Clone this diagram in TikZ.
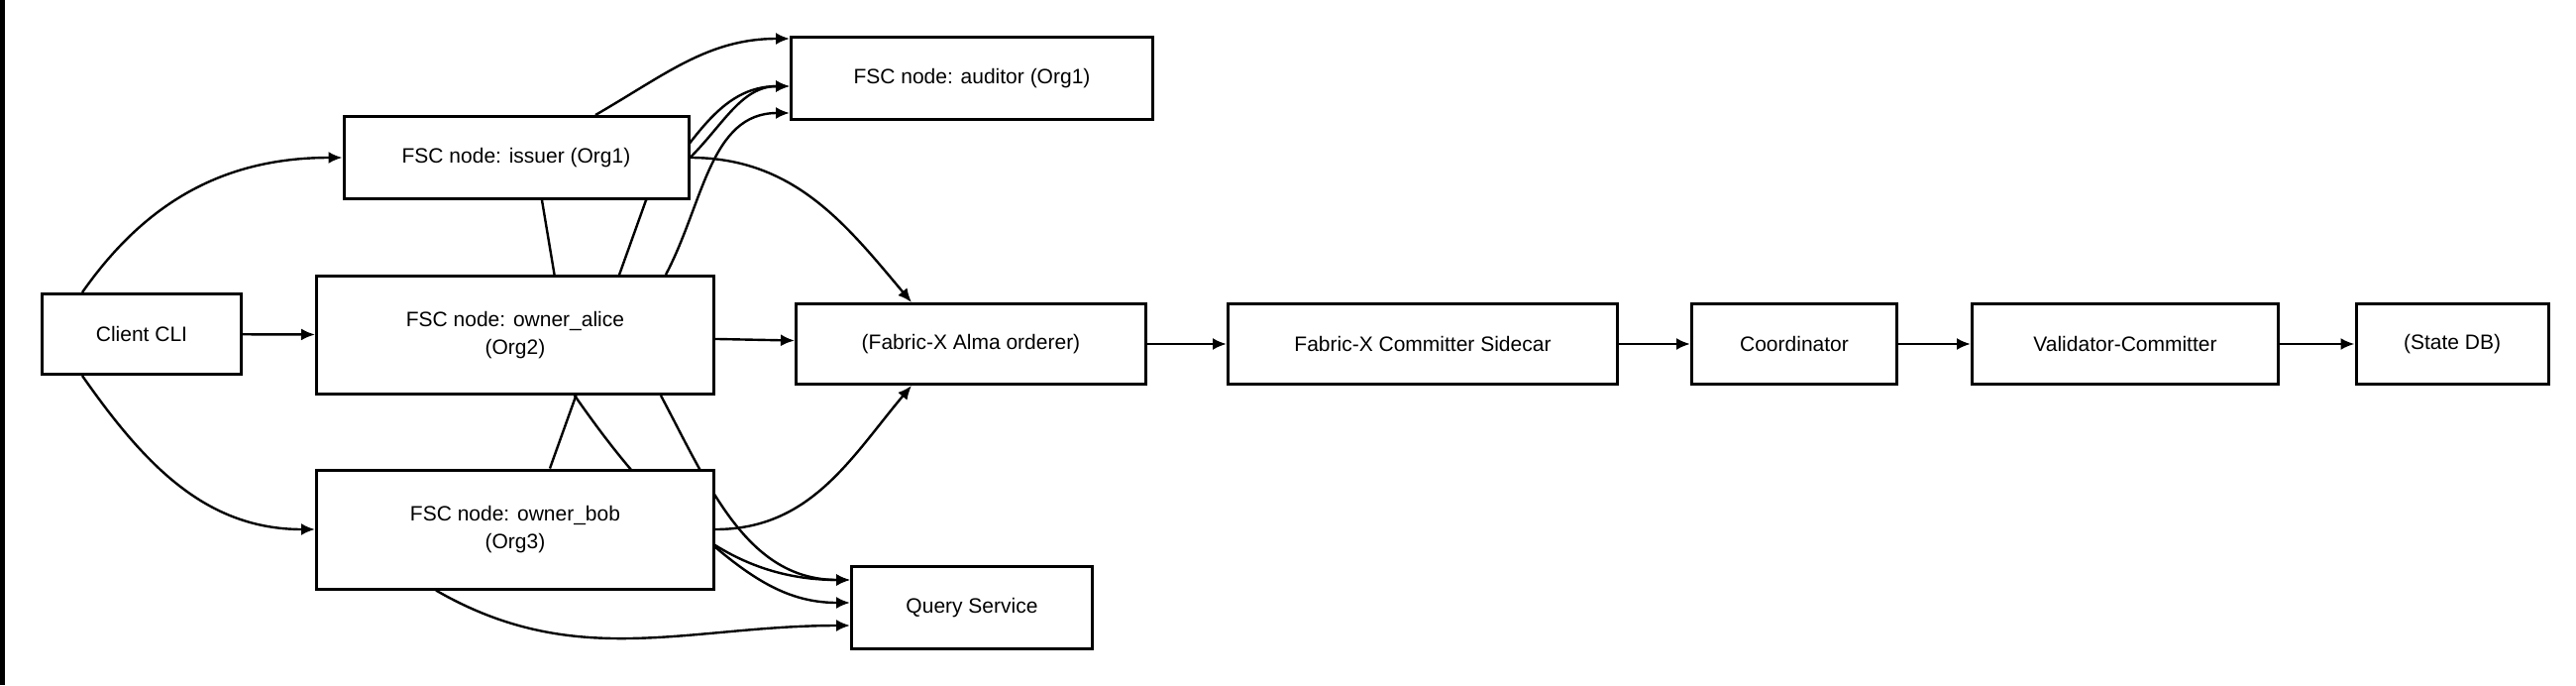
\documentclass[tikz,border=0pt]{standalone}
\usepackage{fontspec}
\setmainfont{Liberation Sans}
\usetikzlibrary{arrows.meta,backgrounds}
\tikzset{
  box/.style={draw, fill=white, line width=3pt, align=center, font=\fontsize{21}{28}\selectfont, inner sep=0pt},
  link/.style={line width=2.4pt, -{Latex[length=14pt,width=12pt]}},
}
\begin{document}
\begin{tikzpicture}[x=1pt, y=-1pt]
\useasboundingbox (0,0) rectangle (2600,691);
\fill (0,0) rectangle (5,691);
% boxes, placed at their centres
\node[box, minimum width=201pt, minimum height=81pt] (cli) at (143,337) {Client CLI};
\node[box, minimum width=348pt, minimum height=83pt] (issuer) at (521,159) {FSC node: issuer (Org1)};
\node[box, minimum width=401pt, minimum height=119pt] (alice) at (520,338) {FSC node: owner\_alice\\(Org2)};
\node[box, minimum width=401pt, minimum height=120pt] (bob) at (520,534) {FSC node: owner\_bob\\(Org3)};
\node[box, minimum width=365pt, minimum height=83pt] (auditor) at (981,79) {FSC node: auditor (Org1)};
\node[box, minimum width=353pt, minimum height=81pt] (orderer) at (980,347) {(Fabric-X Alma orderer)};
\node[box, minimum width=243pt, minimum height=83pt] (query) at (981,613) {Query Service};
\node[box, minimum width=393pt, minimum height=81pt] (sidecar) at (1436,347) {Fabric-X Committer Sidecar};
\node[box, minimum width=207pt, minimum height=81pt] (coord) at (1811,347) {Coordinator};
\node[box, minimum width=309pt, minimum height=81pt] (valid) at (2145,347) {Validator-Committer};
\node[box, minimum width=194pt, minimum height=81pt] (statedb) at (2475,347) {(State DB)};
\begin{scope}[on background layer]
% client fan-out
\draw[link] ([xshift=-60pt]cli.north) to[out=55,in=180] (issuer.west);
\draw[link] (cli) -- (alice);
\draw[link] ([xshift=-60pt]cli.south) to[out=-55,in=180] (bob.west);
% to auditor
\draw[link] ([xshift=80pt]issuer.north) to[out=30,in=180] ([yshift=-3pt]auditor.north west);
\draw[link] (issuer.east) to[out=45,in=180] ([yshift=-8pt]auditor.west);
\draw[link] ([xshift=152pt]alice.north) to[out=62,in=180] ([yshift=-35pt]auditor.west);
\draw[link] ([xshift=35pt]bob.north) -- ([xshift=131pt]issuer.south) to[out=50,in=180] ([yshift=-8pt]auditor.west);
% to orderer
\draw[link] (issuer.east) to[out=0,in=130] ([xshift=-60pt]orderer.north);
\draw[link] (alice) -- (orderer);
\draw[link] (bob.east) to[out=0,in=-130] ([xshift=-60pt]orderer.south);
% to query
\draw[link] ([xshift=26pt]issuer.south) -- ([xshift=60pt]alice.south) to[out=-55,in=180] ([yshift=-15pt]query.north west);
\draw[link] ([xshift=147pt]alice.south) to[out=-62,in=180] ([yshift=-15pt]query.north west);
\draw[link] ([yshift=-18pt]bob.east) to[out=-40,in=180] ([yshift=5pt]query.west);
\draw[link] ([xshift=-80pt]bob.south) to[out=-30,in=180] ([yshift=25pt]query.south west);
% committer chain
\draw[link] (orderer) -- (sidecar);
\draw[link] (sidecar) -- (coord);
\draw[link] (coord) -- (valid);
\draw[link] (valid) -- (statedb);
\end{scope}
\end{tikzpicture}
\end{document}
